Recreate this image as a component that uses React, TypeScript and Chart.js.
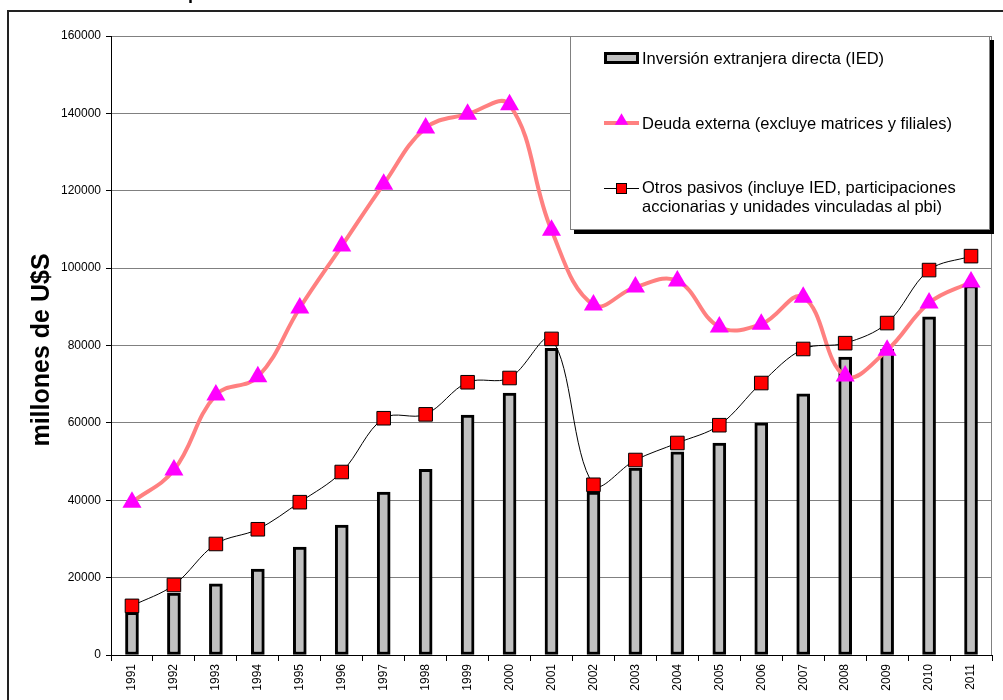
import React, { useEffect, useRef } from "react";
import { Chart, registerables } from "chart.js";

Chart.register(...registerables);

const years = ["1991", "1992", "1993", "1994", "1995", "1996", "1997", "1998", "1999", "2000", "2001", "2002", "2003", "2004", "2005", "2006", "2007", "2008", "2009", "2010", "2011"];

// Inversión extranjera directa (millones de U$S)
const ied = [11000, 16000, 18400, 22200, 27900, 33600, 42100, 48000, 62000, 67700, 79300, 42100, 48300, 52500, 54800, 60000, 67500, 77000, 79000, 87400, 95500];

// Deuda externa, sin matrices y filiales
const deuda = [39500, 47800, 67200, 71900, 89700, 105700, 121700, 136200, 139800, 142200, 109800, 90500, 95100, 96700, 84800, 85500, 92500, 72100, 78800, 91000, 96400];

// Otros pasivos
const otros = [12700, 18100, 28700, 32500, 39500, 47300, 61200, 62200, 70500, 71600, 81700, 44000, 50400, 54800, 59400, 70300, 79100, 80600, 85800, 99500, 103100];

const yTicks = [0, 20000, 40000, 60000, 80000, 100000, 120000, 140000, 160000];

const titleText = "Evolución de los pasivos externos";
const yTitle = "millones de U$S";
const legendLabels = [
  ["Inversión extranjera directa (IED)"],
  ["Deuda externa (excluye matrices y filiales)"],
  ["Otros pasivos (incluye IED, participaciones", "accionarias y unidades vinculadas al pbi)"],
];

const FONT = "'Liberation Sans', Arial, sans-serif";

const decorations = {
  id: "decorations",
  afterDraw(chart: any) {
    const ctx = chart.ctx as CanvasRenderingContext2D;
    const area = chart.chartArea;
    ctx.save();

    // outer frame
    ctx.strokeStyle = "#222";
    ctx.lineWidth = 2;
    ctx.beginPath();
    ctx.moveTo(8, 712);
    ctx.lineTo(8, 11);
    ctx.lineTo(1010, 11);
    ctx.stroke();

    // heading (sits above the frame, mostly off the top edge)
    ctx.fillStyle = "#000";
    ctx.font = `bold 18px ${FONT}`;
    ctx.textAlign = "left";
    ctx.textBaseline = "alphabetic";
    ctx.fillText(titleText, 40, -1);

    // plot right border
    ctx.strokeStyle = "#808080";
    ctx.lineWidth = 1;
    ctx.beginPath();
    ctx.moveTo(area.right - 0.5, area.top);
    ctx.lineTo(area.right - 0.5, area.bottom);
    ctx.stroke();

    // y axis title
    ctx.save();
    ctx.translate(49, 350);
    ctx.rotate(-Math.PI / 2);
    ctx.font = `bold 25px ${FONT}`;
    ctx.textAlign = "center";
    ctx.textBaseline = "alphabetic";
    ctx.fillStyle = "#000";
    ctx.fillText(yTitle, 0, 0);
    ctx.restore();

    // legend box with shadow
    const bx = 570, by = 36, bw = 420, bh = 194;
    ctx.fillStyle = "#000";
    ctx.fillRect(bx + 4, by + 4, bw, bh);
    ctx.fillStyle = "#fff";
    ctx.fillRect(bx, by, bw, bh);
    ctx.strokeStyle = "#808080";
    ctx.lineWidth = 1;
    ctx.strokeRect(bx + 0.5, by + 0.5, bw - 1, bh - 1);

    const sx0 = 604, sx1 = 639, tx = 642;
    ctx.font = `16.5px ${FONT}`;
    ctx.textAlign = "left";
    ctx.textBaseline = "middle";

    // IED swatch
    ctx.fillStyle = "#C0C0C0";
    ctx.fillRect(sx0, 53, sx1 - sx0, 10);
    ctx.strokeStyle = "#000";
    ctx.lineWidth = 3;
    ctx.strokeRect(sx0 + 1.5, 53 + 0.5, sx1 - sx0 - 3, 9);
    ctx.fillStyle = "#000";
    ctx.fillText(legendLabels[0][0], tx, 59);

    // Deuda swatch
    ctx.strokeStyle = "#FF8080";
    ctx.lineWidth = 4;
    ctx.beginPath();
    ctx.moveTo(sx0, 123);
    ctx.lineTo(sx1, 123);
    ctx.stroke();
    const cx = (sx0 + sx1) / 2;
    const r = 7.7;
    ctx.fillStyle = "#FF00FF";
    ctx.beginPath();
    ctx.moveTo(cx, 121 - r);
    ctx.lineTo(cx + r * Math.sin((2 * Math.PI) / 3), 121 + r / 2);
    ctx.lineTo(cx - r * Math.sin((2 * Math.PI) / 3), 121 + r / 2);
    ctx.closePath();
    ctx.fill();
    ctx.fillStyle = "#000";
    ctx.fillText(legendLabels[1][0], tx, 124);

    // Otros swatch
    ctx.strokeStyle = "#000";
    ctx.lineWidth = 1;
    ctx.beginPath();
    ctx.moveTo(sx0, 188.5);
    ctx.lineTo(sx1, 188.5);
    ctx.stroke();
    ctx.fillStyle = "#FF0000";
    ctx.fillRect(cx - 5, 183.5, 10, 10);
    ctx.strokeRect(cx - 5, 183.5, 10, 10);
    ctx.fillStyle = "#000";
    ctx.fillText(legendLabels[2][0], tx, 188);
    ctx.fillText(legendLabels[2][1], tx, 207);

    ctx.restore();
  },
};

export default function App() {
  const canvasRef = useRef<HTMLCanvasElement | null>(null);

  useEffect(() => {
    if (!canvasRef.current) return;
    const chart = new Chart(canvasRef.current, {
      type: "bar",
      data: {
        labels: years,
        datasets: [
          {
            type: "bar",
            label: legendLabels[0][0],
            data: ied,
            backgroundColor: "#C0C0C0",
            borderColor: "#000",
            borderWidth: 3,
            borderSkipped: false,
            barThickness: 13,
            order: 3,
          },
          {
            type: "line",
            label: legendLabels[1][0],
            data: deuda,
            borderColor: "#FF8080",
            borderWidth: 4,
            tension: 0.4,
            pointStyle: "triangle",
            pointRadius: 11,
            pointBackgroundColor: "#FF00FF",
            pointBorderColor: "#FF00FF",
            pointBorderWidth: 0,
            order: 2,
          },
          {
            type: "line",
            label: legendLabels[2].join(" "),
            data: otros,
            borderColor: "#000",
            borderWidth: 1,
            tension: 0.35,
            pointStyle: "rect",
            pointRadius: 9.6,
            pointBackgroundColor: "#FF0000",
            pointBorderColor: "#000",
            pointBorderWidth: 1,
            order: 1,
          },
        ] as any,
      },
      options: {
        responsive: false,
        animation: false,
        devicePixelRatio: 1,
        layout: { padding: { left: 0, top: 36, right: 5, bottom: 0 } },
        plugins: {
          legend: { display: false },
          tooltip: { enabled: false },
        },
        scales: {
          x: {
            offset: true,
            grid: {
              offset: true,
              drawOnChartArea: false,
              drawTicks: true,
              tickLength: 6,
              color: "#000",
              tickColor: "#000",
            },
            border: { color: "#000", width: 1 },
            ticks: {
              autoSkip: false,
              minRotation: 90,
              maxRotation: 90,
              padding: 3,
              color: "#000",
              font: { family: FONT, size: 12 },
            },
            afterFit: (axis: any) => {
              axis.height = 45;
            },
          },
          y: {
            min: 0,
            max: 160000,
            afterBuildTicks: (axis: any) => {
              axis.ticks = yTicks.map((v) => ({ value: v }));
            },
            grid: {
              color: "#808080",
              lineWidth: 1,
              tickLength: 5,
              tickColor: "#000",
            },
            border: { color: "#000", width: 1 },
            ticks: {
              padding: 5,
              color: "#000",
              font: { family: FONT, size: 12 },
              callback: (v: any) => String(v),
            },
            afterFit: (axis: any) => {
              axis.width = 111;
            },
          },
        },
      },
      plugins: [decorations],
    });
    return () => chart.destroy();
  }, []);

  return (
    <div style={{ position: "absolute", left: 0, top: 0, width: 1003, height: 700, background: "#fff" }}>
      <canvas ref={canvasRef} width={1003} height={700} style={{ display: "block" }} />
    </div>
  );
}
